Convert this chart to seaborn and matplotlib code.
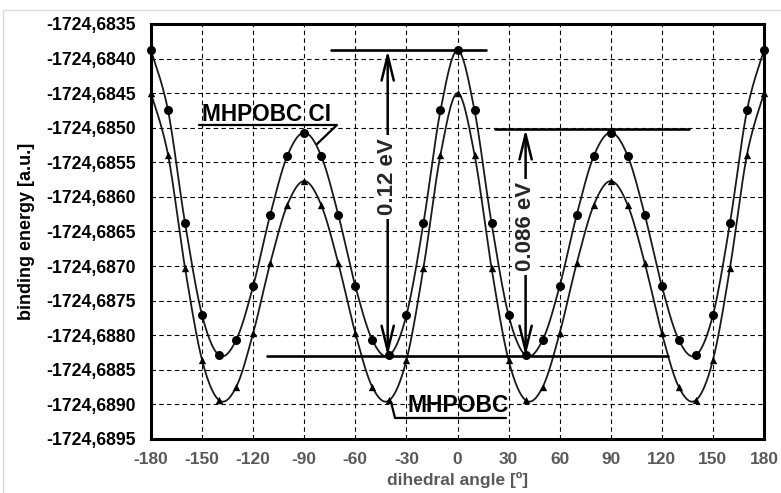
import numpy as np
import pandas as pd
import matplotlib
matplotlib.use("Agg")
import matplotlib.pyplot as plt
from matplotlib.patches import Rectangle
import seaborn as sns

# ---------------- data ----------------
angles = [-180, -170, -160, -150, -140, -130, -120, -110, -100, -90,
          -80, -70, -60, -50, -40, -30, -20, -10, 0,
          10, 20, 30, 40, 50, 60, 70, 80, 90,
          100, 110, 120, 130, 140, 150, 160, 170, 180]

mhpobc_ci = [-1724.68388, -1724.68475, -1724.68638, -1724.68771, -1724.68829,
             -1724.68807, -1724.68729, -1724.68626, -1724.68541, -1724.68507,
             -1724.68541, -1724.68626, -1724.68729, -1724.68807, -1724.68829,
             -1724.68771, -1724.68638, -1724.68475, -1724.68388,
             -1724.68475, -1724.68638, -1724.68771, -1724.68829, -1724.68807,
             -1724.68729, -1724.68626, -1724.68541, -1724.68507,
             -1724.68541, -1724.68626, -1724.68729, -1724.68807, -1724.68829,
             -1724.68771, -1724.68638, -1724.68475, -1724.68388]

mhpobc = [-1724.68450, -1724.68539, -1724.68703, -1724.68836, -1724.68894,
          -1724.68875, -1724.68797, -1724.68696, -1724.68612, -1724.68577,
          -1724.68612, -1724.68696, -1724.68797, -1724.68875, -1724.68894,
          -1724.68836, -1724.68703, -1724.68539, -1724.68450,
          -1724.68539, -1724.68703, -1724.68836, -1724.68894, -1724.68875,
          -1724.68797, -1724.68696, -1724.68612, -1724.68577,
          -1724.68612, -1724.68696, -1724.68797, -1724.68875, -1724.68894,
          -1724.68836, -1724.68703, -1724.68539, -1724.68450]

xtick_vals = [-180, -150, -120, -90, -60, -30, 0, 30, 60, 90, 120, 150, 180]
xtick_labels = ["-180", "-150", "-120", "-90", "-60", "-30", "0", "30", "60",
                "90", "120", "150", "180"]
ytick_vals = [-1724.6895, -1724.6890, -1724.6885, -1724.6880, -1724.6875,
              -1724.6870, -1724.6865, -1724.6860, -1724.6855, -1724.6850,
              -1724.6845, -1724.6840, -1724.6835]
ytick_labels = ["-1724,6895", "-1724,6890", "-1724,6885", "-1724,6880",
                "-1724,6875", "-1724,6870", "-1724,6865", "-1724,6860",
                "-1724,6855", "-1724,6850", "-1724,6845", "-1724,6840",
                "-1724,6835"]

gap_012 = 0.12   # eV
gap_0086 = 0.086  # eV


def smooth(xs, ys, n=24):
    """Excel-like smoothed line (Catmull-Rom Bezier) through the points."""
    P = np.column_stack([np.asarray(xs, float), np.asarray(ys, float)])
    Pm = np.vstack([P[0], P, P[-1]])
    out = []
    for i in range(len(P) - 1):
        p0, p1, p2, p3 = Pm[i], Pm[i + 1], Pm[i + 2], Pm[i + 3]
        b1 = p1 + (p2 - p0) / 6.0
        b2 = p2 - (p3 - p1) / 6.0
        t = np.linspace(0, 1, n, endpoint=(i == len(P) - 2))[:, None]
        seg = ((1 - t) ** 3) * p1 + 3 * ((1 - t) ** 2) * t * b1 \
            + 3 * (1 - t) * t ** 2 * b2 + t ** 3 * p2
        out.append(seg)
    return np.vstack(out)


sns.set_theme(style="white")
plt.rcParams["font.family"] = ["Liberation Sans", "DejaVu Sans"]
plt.rcParams["font.weight"] = "bold"

fig = plt.figure(figsize=(7.81, 4.93), dpi=100)
ax = fig.add_axes([151 / 781, 1 - 439 / 493, 613 / 781, 415 / 493])

line_col = "#1a1a1a"
df = pd.DataFrame({"angle": angles, "ci": mhpobc_ci, "mh": mhpobc})

for col, marker, size in [("ci", "o", 42), ("mh", "^", 28)]:
    s = smooth(df["angle"], df[col])
    sns.lineplot(x=s[:, 0], y=s[:, 1], sort=False, estimator=None,
                 color=line_col, linewidth=1.3, ax=ax, zorder=3)
    sns.scatterplot(data=df, x="angle", y=col, marker=marker, s=size,
                    color="black", edgecolor="black", linewidth=0,
                    ax=ax, zorder=4, clip_on=False)

ax.set_xlim(-180, 180)
ax.set_ylim(-1724.6895, -1724.6835)
ax.set_xticks(xtick_vals, xtick_labels)
ax.set_yticks(ytick_vals, ytick_labels)
ax.tick_params(axis="both", length=0)
ax.tick_params(axis="y", pad=11, labelsize=12.7, labelcolor="black")
ax.tick_params(axis="x", pad=9, labelsize=12.5, labelcolor="#595959")
for lab in ax.get_xticklabels() + ax.get_yticklabels():
    lab.set_fontweight("bold")

ax.grid(True, color="black", linestyle=(0, (4, 3)), linewidth=0.8)
for sp in ax.spines.values():
    sp.set_visible(True)
    sp.set_linewidth(2.2)
    sp.set_color("black")
    sp.set_zorder(6)

ax.set_xlabel("dihedral angle [º]", fontsize=12.5, fontweight="bold",
              color="#595959", labelpad=4)
ax.set_ylabel("binding energy [a.u.]", fontsize=13, fontweight="bold",
              color="black", labelpad=8)

# ---- annotation lines ----
y_top = -1724.68388
y_mid = -1724.68502
y_bot = -1724.68830
ax.plot([-74, 17], [y_top, y_top], color="black", lw=1.9, zorder=5)
ax.plot([22, 136], [y_mid, y_mid], color="black", lw=1.9, zorder=5)
ax.plot([-112, 123.5], [y_bot, y_bot], color="black", lw=1.9, zorder=5)

arrow_kw = dict(arrowstyle="<->,head_length=0.9,head_width=0.22",
                lw=1.8, color="black", shrinkA=0, shrinkB=0,
                mutation_scale=20)
ax.annotate("", xy=(-41, y_top), xytext=(-41, y_bot),
            arrowprops=arrow_kw, zorder=5)
ax.annotate("", xy=(40, y_mid), xytext=(40, y_bot),
            arrowprops=arrow_kw, zorder=5)

box = dict(facecolor="white", edgecolor="none", pad=2.5)
ax.text(-41, -1724.68571, f"{gap_012:.2f} eV", rotation=90, ha="center",
        va="center", fontsize=16, fontweight="bold", bbox=box, zorder=7)
ax.text(40, -1724.68643, f"{gap_0086:.3f} eV", rotation=90, ha="center",
        va="center", fontsize=16, fontweight="bold", bbox=box, zorder=7)

# ---- series labels with leaders ----
ax.text(-150.0, -1724.68490, "MHPOBC CI", ha="left", va="baseline",
        fontsize=16.3, fontweight="bold", color="black", zorder=7)
ax.plot([-151.8, -70.8, -82.5], [-1724.68496, -1724.68496, -1724.685235],
        color="black", lw=1.6, zorder=5)

ax.text(-29.6, -1724.68911, "MHPOBC", ha="left", va="baseline",
        fontsize=16.5, fontweight="bold", color="black", zorder=7)
ax.plot([-39.05, -36.7, 28.5], [-1724.688965, -1724.689196, -1724.689196],
        color="black", lw=1.6, zorder=5)

# outer chart-area border
fig.patches.append(Rectangle((3 / 781, -0.1), 2, 1 - 10 / 493 + 0.1,
                             transform=fig.transFigure, fill=False,
                             edgecolor="#d9d9d9", lw=1))

fig.savefig("out.png", dpi=100)
